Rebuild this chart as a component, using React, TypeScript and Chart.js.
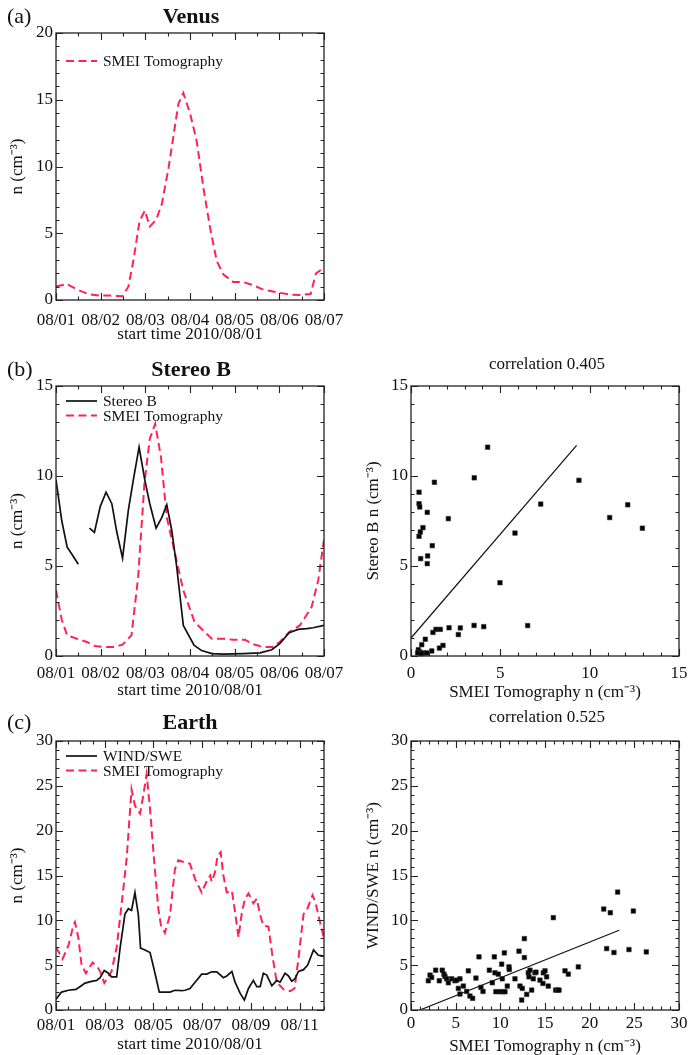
import React, { useEffect, useRef } from 'react';
import { Chart, registerables } from 'chart.js';
Chart.register(...registerables);

const FONT = '"Liberation Serif", "Times New Roman", serif';
const RED = 'rgb(255,35,85)';
const INK = '#111';

// ---------- (a) Venus ----------
const venusDays = [0, 0.24, 0.46, 0.72, 0.91, 1.21, 1.49, 1.62, 1.73, 1.87, 1.99, 2.1, 2.24, 2.37, 2.52, 2.74, 2.85, 3.0, 3.15, 3.3, 3.45, 3.6, 3.75, 3.97, 4.19, 4.42, 4.64, 4.94, 5.24, 5.46, 5.7, 5.82, 6.0];
const venusSmei = [1.0, 1.2, 0.8, 0.45, 0.35, 0.33, 0.28, 1.0, 2.9, 5.9, 6.7, 5.5, 6.0, 7.2, 9.9, 14.7, 15.5, 14.0, 11.9, 8.4, 5.4, 2.9, 1.9, 1.35, 1.35, 1.1, 0.78, 0.58, 0.4, 0.37, 0.45, 2.0, 2.4];
const weekLabels = ['08/01', '08/02', '08/03', '08/04', '08/05', '08/06', '08/07'];
const venusYLabels = ['0', '5', '10', '15', '20'];

// ---------- (b) Stereo B ----------
const stereoDays = [0, 0.13, 0.25, 0.37, 0.5, 0.62, 0.75, 0.86, 0.99, 1.12, 1.25, 1.36, 1.49, 1.62, 1.73, 1.86, 1.99, 2.1, 2.24, 2.37, 2.48, 2.59, 2.7, 2.85, 3.09, 3.26, 3.49, 3.75, 4.19, 4.57, 4.83, 5.01, 5.22, 5.42, 5.61, 5.76, 6.0];
const stereoValues = [9.8, 7.5, 6.05, 5.6, 5.1, null, 7.1, 6.87, 8.3, 9.1, 8.46, 6.9, 5.44, 8.1, 9.76, 11.6, 9.76, 8.46, 7.1, 7.7, 8.4, 7.0, 5.0, 1.7, 0.6, 0.3, 0.13, 0.1, 0.13, 0.17, 0.35, 0.69, 1.3, 1.48, 1.52, 1.57, 1.7];
const stereoSmeiDays = [0, 0.13, 0.25, 0.5, 0.69, 0.87, 1.1, 1.28, 1.49, 1.69, 1.84, 1.98, 2.1, 2.22, 2.35, 2.48, 2.6, 2.74, 2.85, 3.1, 3.26, 3.49, 3.75, 3.97, 4.23, 4.42, 4.64, 4.85, 5.01, 5.22, 5.46, 5.72, 5.87, 6.0];
const stereoSmeiValues = [3.65, 2.0, 1.15, 0.93, 0.78, 0.56, 0.5, 0.5, 0.63, 1.15, 4.4, 9.6, 12.07, 12.9, 11.05, 7.7, 6.4, 4.85, 3.65, 1.9, 1.5, 0.96, 0.96, 0.9, 0.9, 0.65, 0.5, 0.5, 0.78, 1.33, 1.7, 2.7, 4.2, 6.46];
const stereoYLabels = ['0', '5', '10', '15'];

const scatterBSmei = [4.29, 3.54, 1.31, 9.4, 0.45, 0.45, 0.49, 0.91, 2.09, 7.26, 12.13, 11.12, 12.95, 5.82, 0.67, 0.52, 0.45, 1.19, 0.93, 0.54, 0.91, 4.98, 6.53, 3.53, 4.07, 2.76, 2.13, 1.64, 1.4, 1.23, 2.65, 0.8, 0.6, 1.79, 1.59, 1.16, 0.41, 0.5, 0.69, 0.88, 0.37, 0.56];
const scatterBStereo = [11.6, 9.9, 9.65, 9.76, 9.1, 8.46, 8.28, 7.98, 7.63, 8.44, 8.4, 7.69, 7.1, 6.83, 7.13, 6.89, 6.65, 6.13, 5.56, 5.41, 5.13, 4.07, 1.69, 1.7, 1.63, 1.56, 1.57, 1.48, 1.48, 1.31, 1.19, 0.93, 0.63, 0.59, 0.44, 0.28, 0.35, 0.22, 0.17, 0.17, 0.17, 0.13];
const fitBX = [0, 9.27];
const fitBY = [1.0, 11.7];
const scatterBLabels = ['0', '5', '10', '15'];

// ---------- (c) Earth ----------
const earthSmeiDays = [0, 0.27, 0.51, 0.71, 0.78, 0.92, 1.05, 1.23, 1.5, 1.7, 1.83, 1.98, 2.15, 2.28, 2.49, 2.69, 2.9, 3.1, 3.24, 3.45, 3.58, 3.72, 3.86, 4.02, 4.2, 4.31, 4.47, 4.68, 4.88, 5.02, 5.23, 5.5, 5.71, 5.98, 6.19, 6.33, 6.39, 6.53, 6.63, 6.76, 6.87, 7.01, 7.22, 7.35, 7.49, 7.63, 7.76, 7.9, 8.1, 8.24, 8.38, 8.51, 8.72, 8.88, 9.06, 9.34, 9.61, 9.79, 9.95, 10.16, 10.29, 10.53, 10.66, 10.8, 11.0];
const earthSmeiValues = [7.0, 5.7, 7.2, 9.4, 9.8, 8.0, 5.0, 4.1, 5.3, 4.8, 4.2, 3.0, 3.7, 4.3, 7.0, 11.7, 16.9, 24.6, 22.8, 21.9, 23.9, 26.3, 22.4, 16.9, 11.3, 9.4, 8.6, 10.6, 15.7, 16.7, 16.5, 16.3, 14.6, 13.1, 14.4, 15.0, 14.3, 15.4, 17.2, 17.6, 15.0, 13.1, 13.3, 10.9, 8.1, 10.9, 12.4, 13.0, 11.9, 12.4, 10.6, 9.4, 9.3, 6.1, 3.1, 2.3, 2.1, 2.4, 5.7, 10.7, 11.1, 12.8, 11.9, 10.2, 8.0];
const windDays = [0, 0.23, 0.51, 0.82, 0.98, 1.19, 1.46, 1.67, 1.81, 1.98, 2.15, 2.28, 2.49, 2.63, 2.83, 2.97, 3.1, 3.24, 3.38, 3.47, 3.65, 3.86, 4.02, 4.24, 4.47, 4.68, 4.88, 5.16, 5.3, 5.5, 5.71, 5.98, 6.19, 6.39, 6.6, 6.87, 7.01, 7.22, 7.35, 7.56, 7.73, 7.9, 8.1, 8.24, 8.38, 8.51, 8.65, 8.86, 9.06, 9.2, 9.4, 9.54, 9.68, 9.81, 9.95, 10.16, 10.33, 10.57, 10.77, 11.0];
const windValues = [1.2, 2.0, 2.2, 2.3, 2.6, 3.0, 3.2, 3.3, 3.6, 4.4, 4.1, 3.7, 3.7, 6.9, 10.7, 11.3, 11.1, 13.1, 10.6, 6.9, 6.7, 6.4, 4.6, 2.0, 2.0, 2.0, 2.2, 2.15, 2.2, 2.4, 3.1, 4.0, 4.0, 4.26, 4.26, 3.6, 3.8, 4.3, 3.1, 1.85, 1.1, 2.4, 3.3, 2.6, 2.6, 4.1, 3.9, 2.7, 3.3, 3.1, 4.1, 3.8, 3.2, 3.5, 4.3, 4.5, 5.0, 6.7, 6.1, 6.0];
const earthDayLabels = ['08/01', '08/03', '08/05', '08/07', '08/09', '08/11'];
const earthYLabels = ['0', '5', '10', '15', '20', '25', '30'];

const scatterCSmei = [1.94, 2.13, 2.31, 2.76, 3.17, 3.5, 3.69, 3.8, 3.99, 4.18, 4.55, 4.93, 5.11, 5.48, 5.3, 5.48, 5.86, 6.23, 6.42, 6.6, 6.9, 7.27, 7.61, 7.83, 8.06, 8.77, 9.1, 9.33, 9.4, 9.5, 9.77, 9.9, 10.15, 10.22, 10.3, 10.45, 10.52, 10.78, 10.97, 11.0, 11.64, 12.09, 12.2, 12.39, 12.46, 12.69, 12.69, 12.95, 13.13, 13.21, 13.32, 13.51, 13.69, 13.88, 13.99, 14.44, 14.77, 14.81, 15.0, 15.18, 15.37, 15.93, 16.19, 16.42, 16.57, 17.24, 17.61, 18.73, 21.57, 22.31, 23.13, 24.89, 21.9, 22.72, 24.4, 26.34];
const scatterCWind = [3.26, 3.89, 3.63, 4.44, 3.26, 4.44, 4.0, 3.74, 3.48, 3.04, 3.48, 3.26, 3.33, 3.48, 2.41, 1.78, 2.67, 2.07, 4.37, 1.56, 1.3, 3.56, 5.93, 2.52, 2.07, 4.44, 3.04, 5.93, 4.15, 2.04, 4.0, 2.04, 5.11, 3.48, 2.04, 6.37, 2.04, 2.67, 4.81, 4.52, 3.48, 6.56, 2.67, 1.11, 2.41, 7.96, 5.85, 1.74, 4.15, 3.7, 4.44, 2.22, 3.48, 4.15, 4.22, 3.33, 2.96, 4.15, 4.37, 3.7, 2.67, 10.3, 2.22, 2.22, 2.22, 4.37, 4.0, 4.81, 11.26, 10.85, 13.15, 11.04, 6.85, 6.41, 6.74, 6.48];
const fitCX = [1.0, 23.3];
const fitCY = [0.0, 8.9];
const scatterCLabels = ['0', '5', '10', '15', '20', '25', '30'];

// ---------- helpers ----------
type Frame = { xMin: number; xMax: number; xMajor: number; xMinor: number; yMin: number; yMax: number; yMajor: number; yMinor: number };
type LegendItem = { label: string; color: string; dash: number[]; width: number };
type Legend = { items: LegendItem[]; x0: number; x1: number; tx: number; y: number; dy: number } | null;
type TextItem = { text: string; x: number; y: number; font: string; align: CanvasTextAlign };

function idlPlugin(frame: Frame, legend: Legend, texts: TextItem[]) {
  return {
    id: 'idlFrame',
    afterDraw(chart: any) {
      const ctx = chart.ctx as CanvasRenderingContext2D;
      const a = chart.chartArea;
      const xs = chart.scales.x;
      const ys = chart.scales.y;
      ctx.save();
      ctx.setLineDash([]);
      ctx.strokeStyle = '#222';
      ctx.lineWidth = 1.3;
      ctx.strokeRect(a.left, a.top, a.right - a.left, a.bottom - a.top);
      const run = (min: number, max: number, step: number, fn: (v: number) => void) => {
        for (let k = 0; ; k++) {
          const v = min + k * step;
          if (v > max + 1e-9) break;
          fn(v);
        }
      };
      ctx.beginPath();
      const xt = (len: number) => (v: number) => {
        const p = Math.round(xs.getPixelForValue(v)) + 0.5;
        ctx.moveTo(p, a.bottom); ctx.lineTo(p, a.bottom - len);
        ctx.moveTo(p, a.top); ctx.lineTo(p, a.top + len);
      };
      const yt = (len: number) => (v: number) => {
        const p = Math.round(ys.getPixelForValue(v)) + 0.5;
        ctx.moveTo(a.left, p); ctx.lineTo(a.left + len, p);
        ctx.moveTo(a.right, p); ctx.lineTo(a.right - len, p);
      };
      run(frame.xMin, frame.xMax, frame.xMajor, xt(7));
      run(frame.xMin, frame.xMax, frame.xMinor, xt(3.5));
      run(frame.yMin, frame.yMax, frame.yMajor, yt(7));
      run(frame.yMin, frame.yMax, frame.yMinor, yt(3.5));
      ctx.lineWidth = 1.1;
      ctx.stroke();

      if (legend) {
        legend.items.forEach((it, i) => {
          const y = legend.y + i * legend.dy;
          ctx.beginPath();
          ctx.strokeStyle = it.color;
          ctx.lineWidth = it.width;
          ctx.setLineDash(it.dash);
          ctx.moveTo(legend.x0, y);
          ctx.lineTo(legend.x1, y);
          ctx.stroke();
          ctx.setLineDash([]);
          ctx.fillStyle = INK;
          ctx.font = `15.5px ${FONT}`;
          ctx.textBaseline = 'middle';
          ctx.textAlign = 'left';
          ctx.fillText(it.label, legend.tx, y + 1);
        });
      }
      texts.forEach((t) => {
        ctx.fillStyle = INK;
        ctx.font = t.font;
        ctx.textBaseline = 'alphabetic';
        ctx.textAlign = t.align;
        ctx.fillText(t.text, t.x, t.y);
      });
      ctx.restore();
    },
  };
}

const tickFont = { family: FONT, size: 17 };
const titleFont = { family: FONT, size: 17 };

function labelFrom(labels: string[], min: number, step: number) {
  return (v: any) => {
    const i = Math.round((Number(v) - min) / step);
    return Math.abs(Number(v) - (min + i * step)) < 1e-6 ? labels[i] : '';
  };
}

function xAxis(min: number, max: number, step: number, labels: string[], tickPad: number, title: string, titlePadBottom: number, height: number) {
  return {
    type: 'linear',
    position: 'bottom',
    min, max,
    grid: { display: false, drawTicks: false },
    border: { display: false },
    ticks: { stepSize: step, autoSkip: false, maxRotation: 0, minRotation: 0, includeBounds: false, padding: tickPad, font: tickFont, color: INK, callback: labelFrom(labels, min, step) },
    title: { display: true, text: title, font: titleFont, color: INK, padding: { top: 0, bottom: titlePadBottom } },
    afterFit: (s: any) => { s.height = height; s.paddingLeft = 0; s.paddingRight = 0; },
  };
}

function yAxis(min: number, max: number, step: number, labels: string[], title: string, titlePadTop: number, width: number) {
  return {
    type: 'linear',
    position: 'left',
    min, max,
    grid: { display: false, drawTicks: false },
    border: { display: false },
    ticks: { stepSize: step, autoSkip: false, includeBounds: false, padding: 3, font: tickFont, color: INK, callback: labelFrom(labels, min, step) },
    title: { display: true, text: title, font: titleFont, color: INK, padding: { top: titlePadTop, bottom: 0 } },
    afterFit: (s: any) => { s.width = width; s.paddingTop = 0; s.paddingBottom = 0; },
  };
}

const pairs = (xs: number[], ys: (number | null)[]) => xs.map((x, i) => ({ x, y: ys[i] }));

function baseOptions(padTop: number, padRight: number, scales: any) {
  return {
    animation: false,
    responsive: false,
    devicePixelRatio: 1,
    layout: { padding: { left: 0, top: padTop, right: padRight, bottom: 0 } },
    plugins: { legend: { display: false }, tooltip: { enabled: false }, title: { display: false } },
    scales,
  };
}

const smeiStyle = { borderColor: RED, borderWidth: 2, borderDash: [8, 4.5], pointRadius: 0, tension: 0, fill: false };
const blackStyle = { borderColor: INK, borderWidth: 1.7, pointRadius: 0, tension: 0, fill: false, spanGaps: false };
const markStyle = { backgroundColor: '#000', borderColor: '#333', borderWidth: 0.6, pointStyle: 'rect', pointRadius: 3.2, showLine: false, clip: false };
const fitStyle = { borderColor: INK, borderWidth: 1.2, pointRadius: 0, showLine: true, fill: false };

// ---------- chart configs ----------
function venusConfig(): any {
  return {
    type: 'line',
    data: { datasets: [{ label: 'SMEI Tomography', data: pairs(venusDays, venusSmei), ...smeiStyle }] },
    options: baseOptions(33, 24, {
      x: xAxis(0, 6, 1, weekLabels, 10, 'start time 2010/08/01', 0, 45),
      y: yAxis(0, 20, 5, venusYLabels, 'n (cm\u207B\u00B3)', 7, 56),
    }),
    plugins: [idlPlugin(
      { xMin: 0, xMax: 6, xMajor: 1, xMinor: 0.5, yMin: 0, yMax: 20, yMajor: 5, yMinor: 1 },
      { items: [{ label: 'SMEI Tomography', color: RED, dash: [8, 4.5], width: 2 }], x0: 66, x1: 97, tx: 103, y: 61, dy: 14 },
      [
        { text: '(a)', x: 7, y: 23, font: `22px ${FONT}`, align: 'left' },
        { text: 'Venus', x: 191, y: 23, font: `bold 22px ${FONT}`, align: 'center' },
      ],
    )],
  };
}

function stereoConfig(): any {
  return {
    type: 'line',
    data: {
      datasets: [
        { label: 'Stereo B', data: pairs(stereoDays, stereoValues), ...blackStyle },
        { label: 'SMEI Tomography', data: pairs(stereoSmeiDays, stereoSmeiValues), ...smeiStyle },
      ],
    },
    options: baseOptions(46, 24, {
      x: xAxis(0, 6, 1, weekLabels, 7, 'start time 2010/08/01', 5, 50),
      y: yAxis(0, 15, 5, stereoYLabels, 'n (cm\u207B\u00B3)', 7, 56),
    }),
    plugins: [idlPlugin(
      { xMin: 0, xMax: 6, xMajor: 1, xMinor: 0.5, yMin: 0, yMax: 15, yMajor: 5, yMinor: 1 },
      {
        items: [
          { label: 'Stereo B', color: INK, dash: [], width: 1.7 },
          { label: 'SMEI Tomography', color: RED, dash: [8, 4.5], width: 2 },
        ], x0: 66, x1: 97, tx: 103, y: 61, dy: 14.5,
      },
      [
        { text: '(b)', x: 7, y: 36, font: `22px ${FONT}`, align: 'left' },
        { text: 'Stereo B', x: 191, y: 36, font: `bold 22px ${FONT}`, align: 'center' },
      ],
    )],
  };
}

function scatterBConfig(): any {
  return {
    type: 'scatter',
    data: {
      datasets: [
        { data: pairs(scatterBSmei, scatterBStereo), ...markStyle },
        { data: pairs(fitBX, fitBY), ...fitStyle },
      ],
    },
    options: baseOptions(46, 11, {
      x: xAxis(0, 15, 5, scatterBLabels, 7, 'SMEI Tomography n (cm\u207B\u00B3)', 3, 50),
      y: yAxis(0, 15, 5, scatterBLabels, 'Stereo B n (cm\u207B\u00B3)', 15, 63),
    }),
    plugins: [idlPlugin(
      { xMin: 0, xMax: 15, xMajor: 5, xMinor: 1, yMin: 0, yMax: 15, yMajor: 5, yMinor: 1 },
      null,
      [{ text: 'correlation 0.405', x: 199, y: 29, font: `17px ${FONT}`, align: 'center' }],
    )],
  };
}

function earthConfig(): any {
  return {
    type: 'line',
    data: {
      datasets: [
        { label: 'WIND/SWE', data: pairs(windDays, windValues), ...blackStyle },
        { label: 'SMEI Tomography', data: pairs(earthSmeiDays, earthSmeiValues), ...smeiStyle },
      ],
    },
    options: baseOptions(46, 24, {
      x: xAxis(0, 11, 2, earthDayLabels, 5, 'start time 2010/08/01', 0, 45),
      y: yAxis(0, 30, 5, earthYLabels, 'n (cm\u207B\u00B3)', 7, 56),
    }),
    plugins: [idlPlugin(
      { xMin: 0, xMax: 11, xMajor: 2, xMinor: 0.5, yMin: 0, yMax: 30, yMajor: 5, yMinor: 1 },
      {
        items: [
          { label: 'WIND/SWE', color: INK, dash: [], width: 1.7 },
          { label: 'SMEI Tomography', color: RED, dash: [8, 4.5], width: 2 },
        ], x0: 66, x1: 97, tx: 103, y: 61, dy: 14.5,
      },
      [
        { text: '(c)', x: 7, y: 34, font: `22px ${FONT}`, align: 'left' },
        { text: 'Earth', x: 190, y: 34, font: `bold 22px ${FONT}`, align: 'center' },
      ],
    )],
  };
}

function scatterCConfig(): any {
  return {
    type: 'scatter',
    data: {
      datasets: [
        { data: pairs(scatterCSmei, scatterCWind), ...markStyle },
        { data: pairs(fitCX, fitCY), ...fitStyle },
      ],
    },
    options: baseOptions(46, 11, {
      x: xAxis(0, 30, 5, scatterCLabels, 3, 'SMEI Tomography n (cm\u207B\u00B3)', -2, 45),
      y: yAxis(0, 30, 5, scatterCLabels, 'WIND/SWE n (cm\u207B\u00B3)', 15, 63),
    }),
    plugins: [idlPlugin(
      { xMin: 0, xMax: 30, xMajor: 5, xMinor: 1, yMin: 0, yMax: 30, yMajor: 5, yMinor: 1 },
      null,
      [{ text: 'correlation 0.525', x: 199, y: 27, font: `17px ${FONT}`, align: 'center' }],
    )],
  };
}

function Panel({ left, top, width, height, make }: { left: number; top: number; width: number; height: number; make: () => any }) {
  const ref = useRef<HTMLCanvasElement | null>(null);
  useEffect(() => {
    if (!ref.current) return;
    const chart = new Chart(ref.current, make());
    return () => chart.destroy();
  }, []);
  return (
    <canvas
      ref={ref}
      width={width}
      height={height}
      style={{ position: 'absolute', left, top, width, height, display: 'block' }}
    />
  );
}

export default function App() {
  return (
    <div style={{ position: 'absolute', left: 0, top: 0, width: 690, height: 1055, overflow: 'hidden', background: '#fff' }}>
      <Panel left={0} top={0} width={348} height={345} make={venusConfig} />
      <Panel left={0} top={340} width={348} height={366} make={stereoConfig} />
      <Panel left={348} top={340} width={342} height={366} make={scatterBConfig} />
      <Panel left={0} top={695} width={348} height={360} make={earthConfig} />
      <Panel left={348} top={695} width={342} height={360} make={scatterCConfig} />
    </div>
  );
}
